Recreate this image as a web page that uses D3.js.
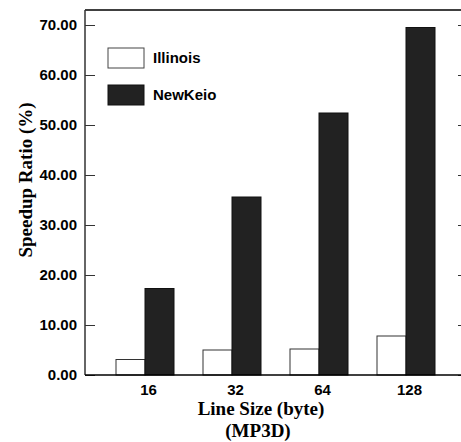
<!DOCTYPE html>
<html>
<head>
<meta charset="utf-8">
<script src="https://cdn.jsdelivr.net/npm/d3@7"></script>
<style>
body{margin:0;background:#fff}
</style>
</head>
<body>
<script>
var sizes = ["16", "32", "64", "128"]
var illinois = [3.1, 5.0, 5.2, 7.8]
var newkeio = [17.3, 35.6, 52.4, 69.5]
var yTicks = [0, 10, 20, 30, 40, 50, 60, 70]
var seriesNames = ["Illinois", "NewKeio"]

var svg = d3.select("body").append("svg")
  .attr("width", 461)
  .attr("height", 442)

var x = d3.scalePoint().domain(sizes).range([145, 406])
var y = d3.scaleLinear().domain([0, 73]).range([375, 10])
var bw = 29
var sans = "Liberation Sans, Arial, sans-serif"
var serif = "Liberation Serif, Times New Roman, serif"

// ramka
svg.append("line").attr("x1", 85).attr("x2", 461).attr("y1", y(73)).attr("y2", y(73))
  .attr("stroke", "#000").attr("stroke-width", 1.5)
svg.append("line").attr("x1", 85).attr("x2", 85).attr("y1", y(73)).attr("y2", y(0))
  .attr("stroke", "#333").attr("stroke-width", 1.5)

// osie
var lewa = svg.append("g").attr("transform", "translate(85,0)")
  .call(d3.axisRight(y).tickValues(yTicks).tickSize(10).tickFormat(""))
lewa.select(".domain").remove()
lewa.selectAll("line").attr("stroke", "#333")

var prawa = svg.append("g").attr("transform", "translate(468,0)")
  .call(d3.axisLeft(y).tickValues(yTicks).tickSize(10).tickFormat(""))
prawa.select(".domain").remove()
prawa.selectAll("line").attr("stroke", "#333")

svg.selectAll(".ylab").data(yTicks).enter().append("text")
  .attr("x", 77).attr("y", function(d){return y(d)})
  .attr("dy", "0.35em").attr("text-anchor", "end")
  .style("font-family", sans)
  .style("font-weight", "bold").style("font-size", "15px")
  .text(function(d){return d3.format(".2f")(d)})

// slupki
svg.selectAll(".ill").data(illinois).enter().append("rect")
  .attr("x", function(d, i){return x(sizes[i]) - bw})
  .attr("y", function(d){return y(d)})
  .attr("width", bw)
  .attr("height", function(d){return y(0) - y(d)})
  .attr("fill", "#fff").attr("stroke", "#333").attr("stroke-width", 1)

svg.selectAll(".nk").data(newkeio).enter().append("rect")
  .attr("x", function(d, i){return x(sizes[i])})
  .attr("y", function(d){return y(d)})
  .attr("width", bw)
  .attr("height", function(d){return y(0) - y(d)})
  .attr("fill", "#222").attr("stroke", "#111").attr("stroke-width", 1)

svg.append("line").attr("x1", 85).attr("x2", 461).attr("y1", y(0)).attr("y2", y(0))
  .attr("stroke", "#000").attr("stroke-width", 1.5)

var dol = svg.append("g").attr("transform", "translate(3," + y(0) + ")")
  .call(d3.axisBottom(x).tickSize(0).tickPadding(9))
dol.select(".domain").remove()
dol.selectAll("text")
  .style("font-family", sans)
  .style("font-weight", "bold").style("font-size", "15px").attr("fill", "#000")

// legenda
var leg = svg.selectAll(".leg").data(seriesNames).enter().append("g")
  .attr("transform", function(d, i){return "translate(108," + (48 + i * 37) + ")"})
leg.append("rect").attr("width", 36).attr("height", 20)
  .attr("fill", function(d, i){return i ? "#222" : "#fff"})
  .attr("stroke", function(d, i){return i ? "#111" : "#444"})
leg.append("text").attr("x", 45).attr("y", 10).attr("dy", "0.35em")
  .style("font-family", sans)
  .style("font-weight", "bold").style("font-size", "15px")
  .text(function(d){return d})

// tytuly
svg.append("text")
  .attr("transform", "translate(32,180) rotate(-90)")
  .attr("text-anchor", "middle")
  .style("font-family", serif)
  .style("font-weight", "bold").style("font-size", "19px")
  .text("Speedup Ratio (%)")

svg.append("text").attr("x", 261).attr("y", 415).attr("text-anchor", "middle")
  .style("font-family", serif)
  .style("font-weight", "bold").style("font-size", "19px")
  .text("Line Size (byte)")
svg.append("text").attr("x", 258).attr("y", 437).attr("text-anchor", "middle")
  .style("font-family", serif)
  .style("font-weight", "bold").style("font-size", "19px")
  .text("(MP3D)")
</script>
</body>
</html>
